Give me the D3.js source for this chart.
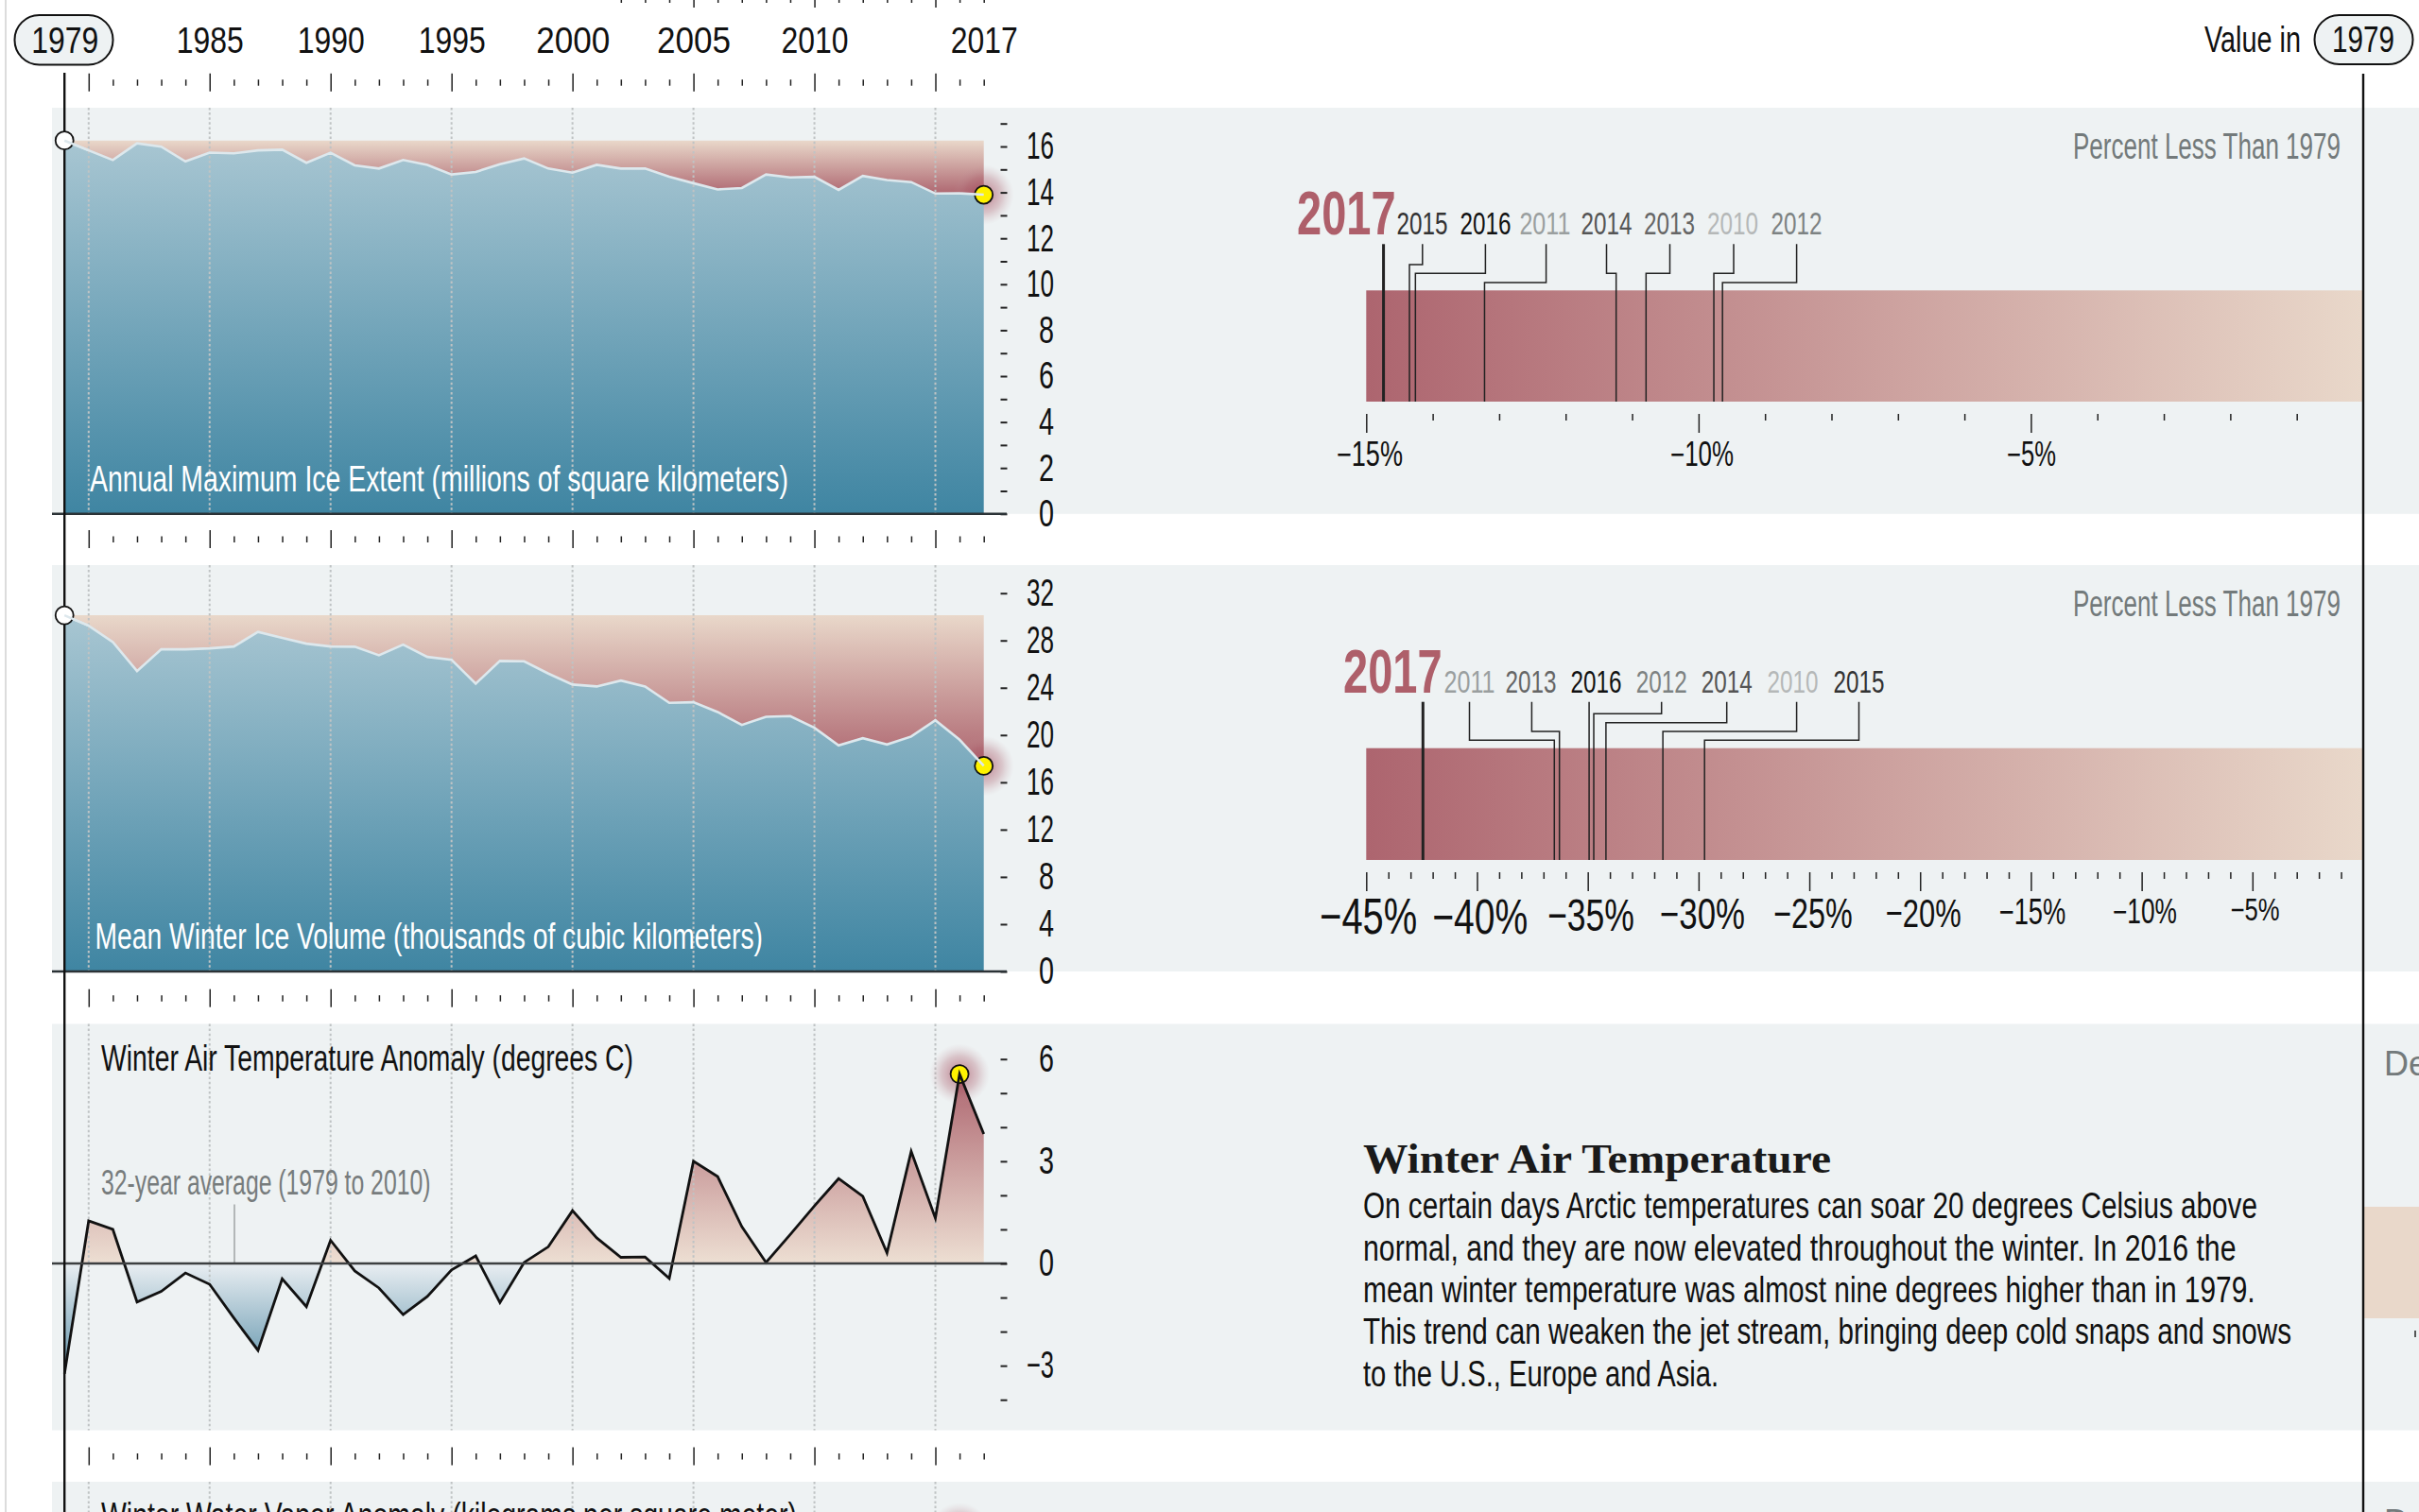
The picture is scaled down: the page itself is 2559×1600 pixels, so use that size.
<!DOCTYPE html>
<html>
<head>
<meta charset="utf-8">
<script src="https://cdnjs.cloudflare.com/ajax/libs/d3/7.8.5/d3.min.js"></script>
<style>
  html, body { margin: 0; padding: 0; background: #fff; overflow: hidden; }
  svg { display: block; }
  text { font-family: "Liberation Sans Narrow", "Liberation Sans", sans-serif; }
  .tick text { font-family: "Liberation Sans Narrow", "Liberation Sans", sans-serif; }
</style>
</head>
<body>
<div id="chart"></div>
<script>
const FRAME_WIDTH = 2559;
const FRAME_HEIGHT = 1600;

// data
const YEARS = [1979,1980,1981,1982,1983,1984,1985,1986,1987,1988,1989,1990,1991,1992,1993,1994,1995,1996,1997,1998,1999,2000,2001,2002,2003,2004,2005,2006,2007,2008,2009,2010,2011,2012,2013,2014,2015,2016,2017];
const YEAR_LABELS = [1979,1985,1990,1995,2000,2005,2010,2017];
const MAJOR_YEARS = [1980,1985,1990,1995,2000,2005,2010,2015];

const ICE_EXTENT = [16.26,15.83,15.41,16.14,15.99,15.35,15.73,15.70,15.83,15.86,15.29,15.73,15.18,15.04,15.41,15.20,14.78,14.89,15.23,15.48,15.04,14.86,15.20,15.04,15.04,14.68,14.40,14.13,14.19,14.78,14.65,14.68,14.11,14.72,14.54,14.45,13.95,13.96,13.90];
const ICE_VOLUME = [30.13,29.25,27.87,25.41,27.25,27.25,27.33,27.49,28.72,28.21,27.73,27.49,27.47,26.75,27.65,26.61,26.37,24.35,26.27,26.24,25.20,24.27,24.11,24.61,24.11,22.72,22.77,21.95,20.85,21.55,21.60,20.61,19.12,19.73,19.20,19.87,21.25,19.60,17.39];
const AIR_TEMP = [-3.24,1.25,1.00,-1.13,-0.82,-0.28,-0.61,-1.60,-2.55,-0.45,-1.27,0.68,-0.22,-0.72,-1.50,-0.97,-0.19,0.22,-1.15,0.03,0.49,1.55,0.75,0.18,0.19,-0.44,3.00,2.55,1.08,0.03,0.85,1.69,2.49,1.97,0.31,3.29,1.33,5.56,3.80];

const EXTENT_TICKS = [0,1,2,3,4,5,6,7,8,9,10,11,12,13,14,15,16,17];
const EXTENT_TICK_LABELS = [0,2,4,6,8,10,12,14,16];
const VOLUME_TICKS = [0,4,8,12,16,20,24,28,32];
const TEMP_TICKS = [-4,-3,-2,-1,0,1,2,3,4,5,6];
const TEMP_TICK_LABELS = [-3,0,3,6];

const EXTENT_RANK_YEARS = [2017,2015,2016,2011,2014,2013,2010,2012];
const EXTENT_RANK_PCT = [-14.74,-14.35,-14.26,-13.22,-11.24,-10.79,-9.77,-9.64];
const VOLUME_RANK_YEARS = [2017,2011,2013,2016,2012,2014,2010,2015];
const VOLUME_RANK_PCT = [-42.44,-36.51,-36.28,-34.94,-34.73,-34.18,-31.61,-29.73];
const EXTENT_PCT_LABELS = [-15,-10,-5];
const VOLUME_PCT_LABELS = [-45,-40,-35,-30,-25,-20,-15,-10,-5];

const TITLE_EXTENT = "Annual Maximum Ice Extent (millions of square kilometers)";
const TITLE_VOLUME = "Mean Winter Ice Volume (thousands of cubic kilometers)";
const TITLE_TEMP = "Winter Air Temperature Anomaly (degrees C)";
const TITLE_VAPOR = "Winter Water Vapor Anomaly (kilograms per square meter)";
const NOTE_AVERAGE = "32-year average (1979 to 2010)";
const PERCENT_TITLE = "Percent Less Than 1979";
const STORY_HEAD = "Winter Air Temperature";
const STORY_LINES = [
  "On certain days Arctic temperatures can soar 20 degrees Celsius above",
  "normal, and they are now elevated throughout the winter. In 2016 the",
  "mean winter temperature was almost nine degrees higher than in 1979.",
  "This trend can weaken the jet stream, bringing deep cold snaps and snows",
  "to the U.S., Europe and Asia."
];

const YEAR_SHADE = {2017:"#ae5f6a",2016:"#111",2015:"#333",2014:"#555",2013:"#666",2012:"#7d8282",2011:"#9a9f9f",2010:"#b5b8b8"};
const PANEL_BG = "#eef2f3";
const BLUE_TOP = "#a8c6d2", BLUE_BOTTOM = "#3f85a2";
const BEIGE = "#e9d8ca", ROSE = "#ad656f";

const X_SCALE = d3.scaleLinear().domain([1979, 2017]).range([68.2, 1040.7]);

const FRAME = d3.select("#chart").append("svg")
  .attr("width", FRAME_WIDTH).attr("height", FRAME_HEIGHT)
  .attr("viewBox", [0, 0, FRAME_WIDTH, FRAME_HEIGHT]);
const DEFS = FRAME.append("defs");

function vGradient(id, y1, y2, stops) {
  const g = DEFS.append("linearGradient").attr("id", id)
    .attr("gradientUnits", "userSpaceOnUse")
    .attr("x1", 0).attr("x2", 0).attr("y1", y1).attr("y2", y2);
  stops.forEach(s => g.append("stop").attr("offset", s[0]).attr("stop-color", s[1]));
}

const glow = DEFS.append("radialGradient").attr("id", "glow");
glow.append("stop").attr("offset", 0).attr("stop-color", "#a33f55").attr("stop-opacity", 0.65);
glow.append("stop").attr("offset", 0.6).attr("stop-color", "#a85a68").attr("stop-opacity", 0.3);
glow.append("stop").attr("offset", 1).attr("stop-color", "#c09aa2").attr("stop-opacity", 0);

const barGrad = DEFS.append("linearGradient").attr("id", "barGrad");
barGrad.append("stop").attr("offset", 0).attr("stop-color", ROSE);
barGrad.append("stop").attr("offset", 1).attr("stop-color", BEIGE);

// text squeezed to the width it has in the reference
function fitText(str, x, y, size, width, color, weight) {
  return FRAME.append("text")
    .attr("x", x).attr("y", y)
    .attr("font-size", size)
    .attr("font-weight", weight || "normal")
    .attr("fill", color || "#111")
    .attr("textLength", width)
    .attr("lengthAdjust", "spacingAndGlyphs")
    .text(str);
}

function pctText(d) { return "\u2212" + Math.abs(d) + "%"; }
function numText(d) { return d < 0 ? "\u2212" + Math.abs(d) : String(d); }

function yearTicks(y) {
  const row = FRAME.append("g").attr("class", "year-ticks");
  row.append("g").attr("transform", "translate(0," + y + ")")
    .call(d3.axisBottom(X_SCALE).tickValues(MAJOR_YEARS).tickSize(19).tickFormat(""));
  row.append("g").attr("transform", "translate(0," + (y + 6.5) + ")")
    .call(d3.axisBottom(X_SCALE).tickValues(YEARS.filter(d => d > 1979 && !MAJOR_YEARS.includes(d))).tickSize(6.5).tickFormat(""));
  row.selectAll(".domain").remove();
  row.selectAll("line").attr("stroke", "#222").attr("stroke-width", 1.5);
}

function gridLines(top, bottom) {
  FRAME.append("g").selectAll("line")
    .data(MAJOR_YEARS)
    .enter().append("line")
      .attr("x1", d => X_SCALE(d)).attr("x2", d => X_SCALE(d))
      .attr("y1", top).attr("y2", bottom)
      .attr("stroke", "#bfc3c4").attr("stroke-width", 2)
      .attr("stroke-dasharray", "2.5 2.6");
}

function valueAxis(yScale, ticks, labels) {
  const ax = FRAME.append("g").attr("transform", "translate(1058.5,0)")
    .call(d3.axisRight(yScale).tickValues(ticks).tickSize(7).tickPadding(0)
      .tickFormat(d => labels.includes(d) ? numText(d) : ""));
  ax.select(".domain").remove();
  ax.selectAll("line").attr("stroke", "#222").attr("stroke-width", 2);
  ax.selectAll("text")
    .attr("x", 56.5)
    .attr("text-anchor", "end")
    .attr("font-size", 40)
    .attr("fill", "#111")
    .each(function(d) {
      if (labels.includes(d)) {
        const n = numText(d).length;
        d3.select(this).attr("textLength", n === 1 ? 16 : 29).attr("lengthAdjust", "spacingAndGlyphs");
      }
    });
}

function dots(x, y, fill) {
  FRAME.append("circle").attr("cx", x).attr("cy", y).attr("r", 9.5)
    .attr("fill", fill).attr("stroke", "#111").attr("stroke-width", 1.8);
}

function icePanel(id, values, yScale, top, bottom, ticks, labels) {
  const base = values[0];
  const lowest = d3.min(values);

  FRAME.append("rect").attr("x", 55).attr("y", top)
    .attr("width", FRAME_WIDTH - 55).attr("height", bottom - top).attr("fill", PANEL_BG);

  vGradient(id + "Red", yScale(base), yScale(lowest), [[0, BEIGE], [1, ROSE]]);
  vGradient(id + "Blue", yScale(base), yScale(0), [[0, BLUE_TOP], [1, BLUE_BOTTOM]]);

  FRAME.append("path").datum(values)
    .attr("fill", "url(#" + id + "Red)")
    .attr("d", d3.area().x((d, i) => X_SCALE(YEARS[i])).y0(yScale(base)).y1(d => yScale(d)));

  FRAME.append("circle").attr("cx", X_SCALE(2017)).attr("cy", yScale(values[38])).attr("r", 32).attr("fill", "url(#glow)");

  FRAME.append("path").datum(values)
    .attr("fill", "url(#" + id + "Blue)")
    .attr("d", d3.area().x((d, i) => X_SCALE(YEARS[i])).y0(yScale(0)).y1(d => yScale(d)));

  gridLines(top, bottom);
  dots(X_SCALE(2017), yScale(values[38]), "#fff200");

  FRAME.append("path").datum(values)
    .attr("fill", "none").attr("stroke", "#dde8ed").attr("stroke-width", 2.6)
    .attr("d", d3.line().x((d, i) => X_SCALE(YEARS[i])).y(d => yScale(d)));

  valueAxis(yScale, ticks, labels);

  FRAME.append("line").attr("x1", 55).attr("x2", 1065).attr("y1", bottom).attr("y2", bottom)
    .attr("stroke", "#2b3236").attr("stroke-width", 2.4);
}

// bar with the ranked years, lines run from the labels down into the bar
function rankBar(pctScale, barTop, barBottom, rankYears, rankPct, labelCenters, lineTops, levels, lineTop, labelY) {
  FRAME.append("rect").attr("x", pctScale(pctScale.domain()[0])).attr("y", barTop)
    .attr("width", 2500 - pctScale(pctScale.domain()[0])).attr("height", barBottom - barTop)
    .attr("fill", "url(#barGrad)");

  rankYears.forEach((yr, i) => {
    const bx = pctScale(rankPct[i]);
    const pts = levels[i] === null
      ? [[bx, lineTop], [bx, barBottom]]
      : [[lineTops[i], lineTop], [lineTops[i], levels[i]], [bx, levels[i]], [bx, barBottom]];
    FRAME.append("path").attr("d", d3.line()(pts))
      .attr("fill", "none").attr("stroke", "#222")
      .attr("stroke-width", i === 0 ? 3 : 1.5);
    if (i > 0) {
      fitText(yr, labelCenters[i] - 27, labelY, 34, 54, YEAR_SHADE[yr]);
    }
  });

  FRAME.append("g").attr("class", "pct")
    .attr("transform", "translate(0," + (barBottom + 13) + ")")
    .call(d3.axisBottom(pctScale)
      .tickValues(d3.range(pctScale.domain()[0], 0).filter(d => d % 5 !== 0))
      .tickSize(7).tickFormat(""))
    .call(g => g.select(".domain").remove())
    .selectAll("line").attr("stroke", "#222").attr("stroke-width", 1.5);

  FRAME.append("g").attr("class", "pct")
    .attr("transform", "translate(0," + (barBottom + 13) + ")")
    .call(d3.axisBottom(pctScale)
      .tickValues(d3.range(pctScale.domain()[0], 0, 5))
      .tickSize(20).tickFormat(""))
    .call(g => g.select(".domain").remove())
    .selectAll("line").attr("stroke", "#222").attr("stroke-width", 1.5);
}

// left edge rule
FRAME.append("rect").attr("x", 5).attr("y", 0).attr("width", 2).attr("height", FRAME_HEIGHT).attr("fill", "#dcdcdc");

// top row clipped by the frame
const TOP_ROW = FRAME.append("g");
TOP_ROW.append("g").attr("transform", "translate(0,-11)")
  .call(d3.axisBottom(X_SCALE).tickValues([2005, 2010, 2015]).tickSize(19).tickFormat(""));
TOP_ROW.append("g").attr("transform", "translate(0,-4)")
  .call(d3.axisBottom(X_SCALE).tickValues(YEARS.filter(d => d >= 2002 && d % 5 !== 0)).tickSize(7).tickFormat(""));
TOP_ROW.selectAll(".domain").remove();
TOP_ROW.selectAll("line").attr("stroke", "#222").attr("stroke-width", 1.5);

yearTicks(77.7);
yearTicks(561);
yearTicks(1046.7);
yearTicks(1531.5);

// panel 1
const Y_EXTENT = d3.scaleLinear().domain([0, 16]).range([543.8, 155]);
icePanel("extent", ICE_EXTENT, Y_EXTENT, 114, 543.8, EXTENT_TICKS, EXTENT_TICK_LABELS);
fitText(TITLE_EXTENT, 95, 520, 38, 739, "#fff");

// panel 2
const Y_VOLUME = d3.scaleLinear().domain([0, 32]).range([1028, 627.7]);
icePanel("volume", ICE_VOLUME, Y_VOLUME, 598, 1028, VOLUME_TICKS, VOLUME_TICKS);
fitText(TITLE_VOLUME, 100.5, 1004, 38, 706.5, "#fff");

// panel 3
const Y_TEMP = d3.scaleLinear().domain([0, 6]).range([1337, 1120.7]);
FRAME.append("rect").attr("x", 55).attr("y", 1083.5).attr("width", FRAME_WIDTH - 55).attr("height", 430).attr("fill", PANEL_BG);
const TEMP_TOP = Y_TEMP(d3.max(AIR_TEMP));
const TEMP_BOTTOM = Y_TEMP(d3.min(AIR_TEMP));
const TEMP_ZERO = (Y_TEMP(0) - TEMP_TOP) / (TEMP_BOTTOM - TEMP_TOP);
vGradient("tempGrad", TEMP_TOP, TEMP_BOTTOM, [
  [0, "#ad656f"], [TEMP_ZERO, "#eddfd3"], [TEMP_ZERO, "#e9eef2"], [1, "#5f93ab"]
]);
FRAME.append("path").datum(AIR_TEMP)
  .attr("fill", "url(#tempGrad)")
  .attr("d", d3.area().x((d, i) => X_SCALE(YEARS[i])).y0(Y_TEMP(0)).y1(d => Y_TEMP(d)));
gridLines(1083.5, 1513.5);
FRAME.append("line").attr("x1", 248).attr("x2", 248).attr("y1", 1274.5).attr("y2", 1337).attr("stroke", "#8b8f90").attr("stroke-width", 1.2);
FRAME.append("circle").attr("cx", X_SCALE(2016)).attr("cy", Y_TEMP(5.56)).attr("r", 32).attr("fill", "url(#glow)");
dots(X_SCALE(2016), Y_TEMP(5.56), "#fff200");
FRAME.append("path").datum(AIR_TEMP)
  .attr("fill", "none").attr("stroke", "#111").attr("stroke-width", 2.8)
  .attr("d", d3.line().x((d, i) => X_SCALE(YEARS[i])).y(d => Y_TEMP(d)));
FRAME.append("line").attr("x1", 55).attr("x2", 1065).attr("y1", Y_TEMP(0)).attr("y2", Y_TEMP(0)).attr("stroke", "#3c3f40").attr("stroke-width", 2.4);
valueAxis(Y_TEMP, TEMP_TICKS, TEMP_TICK_LABELS);
fitText(TITLE_TEMP, 107, 1133, 38, 563, "#111");
fitText(NOTE_AVERAGE, 107, 1264, 36, 348.5, "#777c7d");

// panel 4, only its top shows
FRAME.append("rect").attr("x", 55).attr("y", 1568).attr("width", FRAME_WIDTH - 55).attr("height", 32).attr("fill", PANEL_BG);
gridLines(1568, 1600);
FRAME.append("circle").attr("cx", X_SCALE(2016)).attr("cy", 1622).attr("r", 32).attr("fill", "url(#glow)");
fitText(TITLE_VAPOR, 107, 1617, 38, 736, "#111");

// right column
const X_EXTENT_PCT = d3.scaleLinear().domain([-15, 0]).range([1445.3, 2500]);
const X_VOLUME_PCT = d3.scaleLinear().domain([-45, 0]).range([1445.3, 2500]);

fitText(PERCENT_TITLE, 2193, 167.7, 38, 283, "#737a7b");
rankBar(X_EXTENT_PCT, 307.3, 425, EXTENT_RANK_YEARS, EXTENT_RANK_PCT,
  [0, 1504.4, 1571.4, 1634.4, 1699.5, 1766, 1833, 1900.6],
  [0, 1504.8, 1571.4, 1635.6, 1699.5, 1766.5, 1834, 1900.6],
  [null, 280, 289.3, 299, 289.3, 289.3, 289.3, 299], 258.3, 248.3);
fitText(2017, 1372, 248.3, 64, 104.6, YEAR_SHADE[2017], "bold");

fitText(PERCENT_TITLE, 2193, 651.7, 38, 283, "#737a7b");
rankBar(X_VOLUME_PCT, 791.7, 910, VOLUME_RANK_YEARS, VOLUME_RANK_PCT,
  [0, 1554.5, 1619.6, 1688.6, 1757.7, 1826.7, 1896.6, 1966.5],
  [0, 1554.5, 1620.4, 1681.4, 1757.7, 1826.7, 1900.6, 1966.5],
  [null, 783.3, 774, null, 755.3, 764.7, 774, 783.3], 742.7, 733.3);
fitText(2017, 1421, 733.3, 64, 104.6, YEAR_SHADE[2017], "bold");

// percent labels
const EXTENT_LABEL_WIDTHS = [70, 67, 52];
const EXTENT_LABEL_CENTERS = [1449, 1800.5, 2149];
EXTENT_PCT_LABELS.forEach((d, i) => {
  fitText(pctText(d), EXTENT_LABEL_CENTERS[i] - EXTENT_LABEL_WIDTHS[i] / 2, 492.7, 36, EXTENT_LABEL_WIDTHS[i], "#111");
});
const VOLUME_LABEL_SIZES = [53, 52, 48, 46, 44, 43, 38, 36, 33];
const VOLUME_LABEL_WIDTHS = [103, 101, 92, 90, 83.5, 80, 70.6, 68, 52];
const VOLUME_LABEL_CENTERS = [1447.7, 1565.8, 1683, 1801, 1918, 2034.7, 2150, 2269, 2385.6];
VOLUME_PCT_LABELS.forEach((d, i) => {
  fitText(pctText(d), VOLUME_LABEL_CENTERS[i] - VOLUME_LABEL_WIDTHS[i] / 2,
    951.7 + VOLUME_LABEL_SIZES[i] * 0.69, VOLUME_LABEL_SIZES[i], VOLUME_LABEL_WIDTHS[i], "#111");
});

// story text
FRAME.append("text").attr("x", 1442).attr("y", 1241)
  .attr("font-size", 44).attr("font-weight", "bold").attr("fill", "#1a1a1a")
  .style("font-family", "'Liberation Serif', serif")
  .attr("textLength", 495).attr("lengthAdjust", "spacingAndGlyphs")
  .text(STORY_HEAD);
const STORY_BASELINES = [1289.3, 1334, 1378.3, 1422.3, 1466.7];
const STORY_WIDTHS = [946, 923.5, 943.6, 982, 376];
STORY_LINES.forEach((s, i) => fitText(s, 1442, STORY_BASELINES[i], 38, STORY_WIDTHS[i], "#111"));

// next column, cut by the frame
FRAME.append("rect").attr("x", 2501).attr("y", 1277).attr("width", 58).attr("height", 118).attr("fill", BEIGE);
FRAME.append("line").attr("x1", 2555).attr("x2", 2555).attr("y1", 1408).attr("y2", 1415).attr("stroke", "#222").attr("stroke-width", 1.5);
FRAME.append("text").attr("x", 2522).attr("y", 1138).attr("font-size", 36).attr("fill", "#737a7b").text("Degrees");
FRAME.append("text").attr("x", 2522).attr("y", 1623).attr("font-size", 36).attr("fill", "#737a7b").text("Degrees");

// 1979 rules and the header row
FRAME.append("line").attr("x1", 68.2).attr("x2", 68.2).attr("y1", 77).attr("y2", FRAME_HEIGHT).attr("stroke", "#111").attr("stroke-width", 2.4);
FRAME.append("line").attr("x1", 2500).attr("x2", 2500).attr("y1", 78).attr("y2", FRAME_HEIGHT).attr("stroke", "#111").attr("stroke-width", 2.4);

// 1979 start points sit on top of the rule
[[ICE_EXTENT, Y_EXTENT], [ICE_VOLUME, Y_VOLUME]].forEach(p => {
  dots(X_SCALE(1979), p[1](p[0][0]), "#fff");
  FRAME.append("path").datum(p[0].slice(0, 2))
    .attr("fill", "none").attr("stroke", "#dde8ed").attr("stroke-width", 2.6)
    .attr("d", d3.line().x((d, i) => X_SCALE(YEARS[i])).y(d => p[1](d)));
});

FRAME.append("rect").attr("x", 15.5).attr("y", 16).attr("width", 104).attr("height", 52.5).attr("rx", 26)
  .attr("fill", PANEL_BG).attr("stroke", "#111").attr("stroke-width", 2);
FRAME.append("rect").attr("x", 2448.5).attr("y", 16).attr("width", 104).attr("height", 52).attr("rx", 26)
  .attr("fill", PANEL_BG).attr("stroke", "#111").attr("stroke-width", 2);

const HEADER = FRAME.append("g").attr("transform", "translate(0,55.5)")
  .call(d3.axisTop(X_SCALE).tickValues(YEAR_LABELS).tickSize(0).tickPadding(0).tickFormat(d3.format("d")));
HEADER.select(".domain").remove();
HEADER.selectAll("text")
  .attr("font-size", 39).attr("fill", "#111")
  .attr("textLength", d => (d === 2000 || d === 2005) ? 78 : 71)
  .attr("lengthAdjust", "spacingAndGlyphs");

fitText("Value in", 2332, 55, 38, 102, "#111");
fitText("1979", 2467, 55, 38, 66, "#111");
</script>
</body>
</html>
